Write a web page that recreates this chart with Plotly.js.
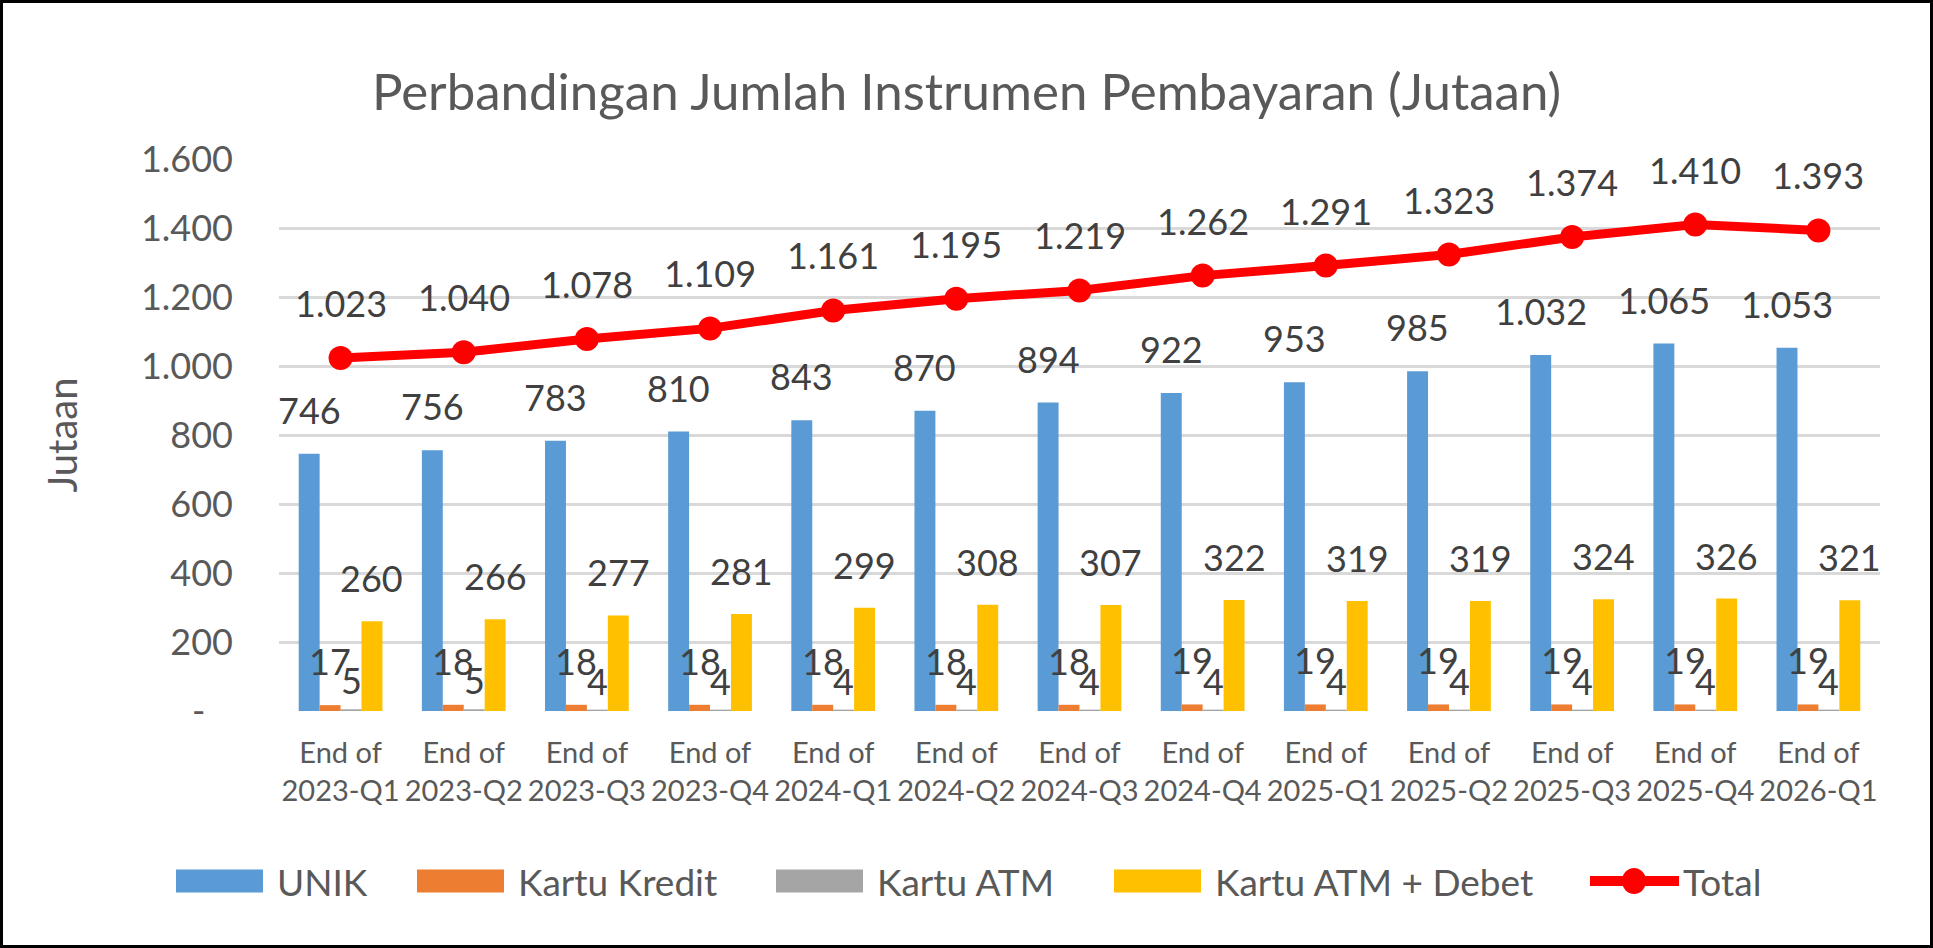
<!DOCTYPE html>
<html>
<head>
<meta charset="utf-8">
<script src="https://cdn.plot.ly/plotly-3.0.1.min.js"></script>
<style>
  body { margin: 0; background: #fff; }
  #wrap { position: relative; width: 1933px; height: 948px; }
  #frame { position: absolute; left: 0; top: 0; width: 1933px; height: 948px;
           box-sizing: border-box; border: 3px solid #000; pointer-events: none; }
</style>
</head>
<body>
<div id="wrap">
  <div id="chart"></div>
  <div id="frame"></div>
</div>
<script>
// data (jutaan)
let quarters = ["2023-Q1", "2023-Q2", "2023-Q3", "2023-Q4", "2024-Q1", "2024-Q2", "2024-Q3",
                "2024-Q4", "2025-Q1", "2025-Q2", "2025-Q3", "2025-Q4", "2026-Q1"];
let tick_labels = quarters.map(q => "End of<br>" + q);

let unik   = [746, 756, 783, 810, 843, 870, 894, 922, 953, 985, 1032, 1065, 1053];
let kredit = [17, 18, 18, 18, 18, 18, 18, 19, 19, 19, 19, 19, 19];
let atm    = [5, 5, 4, 4, 4, 4, 4, 4, 4, 4, 4, 4, 4];
let debet  = [260, 266, 277, 281, 299, 308, 307, 322, 319, 319, 324, 326, 321];
let total  = [1023, 1040, 1078, 1109, 1161, 1195, 1219, 1262, 1291, 1323, 1374, 1410, 1393];

let y_ticks = [0, 200, 400, 600, 800, 1000, 1200, 1400, 1600];

function fmt(v) {
    return String(v).replace(/\B(?=(\d{3})+(?!\d))/g, ".");
}

let W = 1933, H = 948;
let margin = { l: 279, r: 53, t: 159, b: 237, pad: 0 };
let plot_w = W - margin.l - margin.r;
let plot_h = H - margin.t - margin.b;
let bargap = 0.32;

let font = 'Lato, "Open Sans", sans-serif';
let grey = "#595959";
let label_color = "#404040";
let red = "#FF0000";

let bar_series = [
    { name: "UNIK", y: unik, color: "#5B9BD5", shift: 44 },
    { name: "Kartu Kredit", y: kredit, color: "#ED7D31", shift: 44 },
    { name: "Kartu ATM", y: atm, color: "#A5A5A5", shift: 29 },
    { name: "Kartu ATM + Debet", y: debet, color: "#FFC000", shift: 43 }
];

let data = bar_series.map(s => ({
    type: "bar",
    name: s.name,
    x: quarters,
    y: s.y,
    marker: { color: s.color }
}));

data.push({
    type: "scatter",
    mode: "lines+markers",
    name: "Total",
    x: quarters,
    y: total,
    line: { color: red, width: 9 },
    marker: { color: red, size: 24 }
});

// data labels, placed over each bar centre
let cat_w = plot_w / quarters.length;
let bar_w = cat_w * (1 - bargap) / bar_series.length;

let annotations = [];
bar_series.forEach((s, k) => {
    let dx = (k - (bar_series.length - 1) / 2) * bar_w;
    s.y.forEach((v, i) => {
        annotations.push({
            x: quarters[i], y: v, xref: "x", yref: "y",
            text: fmt(v), showarrow: false,
            xshift: dx, yshift: s.shift, yanchor: "middle",
            font: { family: font, size: 36, color: label_color }
        });
    });
});
total.forEach((v, i) => {
    annotations.push({
        x: quarters[i], y: v, xref: "x", yref: "y",
        text: fmt(v), showarrow: false,
        yshift: 55, yanchor: "middle",
        font: { family: font, size: 36, color: label_color }
    });
});

// legend below the chart, Excel style (wide swatches)
function px2x(px) { return (px - margin.l) / plot_w; }
function py2y(py) { return (H - margin.b - py) / plot_h; }

let legend_left = [176, 417, 776, 1114, 1586];
let legend_mid = 881;
let sw_w = 87, sw_h = 23;
let shapes = [];

bar_series.forEach((s, k) => {
    let lx = legend_left[k];
    shapes.push({
        type: "rect", xref: "paper", yref: "paper",
        x0: px2x(lx), x1: px2x(lx + sw_w),
        y0: py2y(legend_mid + sw_h / 2), y1: py2y(legend_mid - sw_h / 2),
        fillcolor: s.color, line: { width: 0 }
    });
});
let tl = legend_left[4];
shapes.push({
    type: "line", xref: "paper", yref: "paper",
    x0: px2x(tl + 4), x1: px2x(tl + sw_w + 6),
    y0: py2y(legend_mid), y1: py2y(legend_mid),
    line: { color: red, width: 10 }
});
shapes.push({
    type: "circle", xref: "paper", yref: "paper",
    x0: px2x(tl + 48 - 12), x1: px2x(tl + 48 + 12),
    y0: py2y(legend_mid + 13), y1: py2y(legend_mid - 13),
    fillcolor: red, line: { width: 0 }
});

let legend_names = bar_series.map(s => s.name).concat(["Total"]);
legend_names.forEach((name, k) => {
    let gap = k === 4 ? 8 : 12;
    annotations.push({
        xref: "paper", yref: "paper",
        x: px2x(legend_left[k] + sw_w + gap), xanchor: "left",
        y: py2y(legend_mid), yanchor: "middle",
        text: name, showarrow: false,
        font: { family: font, size: 37, color: grey }
    });
});

let layout = {
    width: W,
    height: H,
    margin: margin,
    paper_bgcolor: "#fff",
    plot_bgcolor: "#fff",
    font: { family: font, color: grey },
    showlegend: false,
    title: {
        text: "Perbandingan Jumlah Instrumen Pembayaran (Jutaan)",
        font: { family: font, size: 51, color: grey },
        x: 0.5, xref: "container", xanchor: "center",
        y: 1 - 92 / H, yref: "container", yanchor: "middle"
    },
    barmode: "group",
    bargap: bargap,
    bargroupgap: 0,
    xaxis: {
        type: "category",
        range: [-0.5, quarters.length - 0.5],
        tickmode: "array",
        tickvals: quarters,
        ticktext: tick_labels,
        tickangle: 0,
        showgrid: false,
        showline: false,
        zeroline: false,
        ticks: "",
        ticklabelstandoff: 22,
        tickfont: { family: font, size: 29, color: grey }
    },
    yaxis: {
        range: [0, 1600],
        tickmode: "array",
        tickvals: y_ticks,
        ticktext: y_ticks.map(v => v === 0 ? "-\u00a0\u00a0\u00a0" : fmt(v)),
        showgrid: true,
        gridcolor: "#D9D9D9",
        gridwidth: 3,
        zeroline: false,
        showline: false,
        ticks: "",
        ticklabelstandoff: 45,
        tickfont: { family: font, size: 36, color: grey },
        title: { text: "Jutaan", font: { family: font, size: 40, color: grey }, standoff: 50 }
    },
    shapes: shapes,
    annotations: annotations
};

Plotly.newPlot("chart", data, layout, { displayModeBar: false, staticPlot: true });
</script>
</body>
</html>
